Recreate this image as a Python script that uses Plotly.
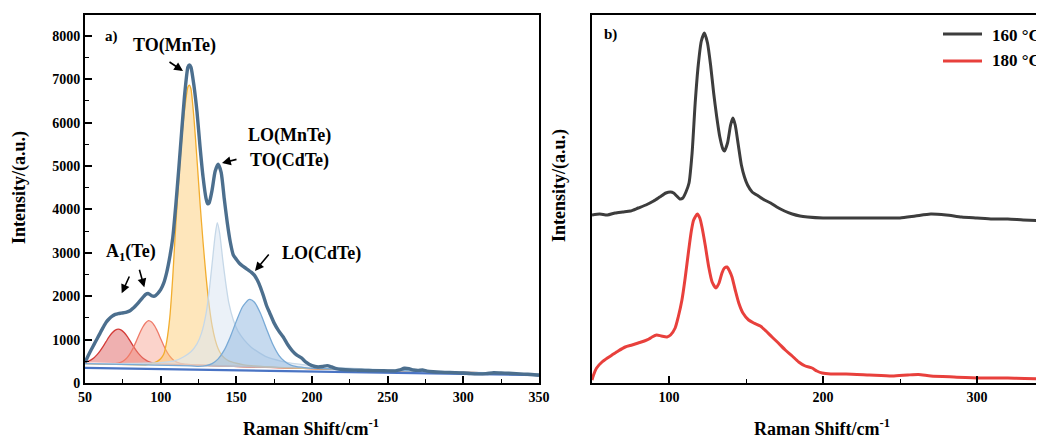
import plotly.graph_objects as go

# ---------------- Panel a data (Raman shift, cm-1 ; intensity, a.u.) ----------------
meas_x = [50, 52, 54, 56, 58, 60, 62, 64, 66, 68, 70, 72, 74, 76, 78, 80, 82, 84, 86, 88, 90, 92, 94, 96, 98,
          100, 102, 104, 106, 108, 110, 112, 114, 116, 118, 119, 120, 122, 124, 126, 128, 130, 131, 132, 134,
          136, 138, 140, 142, 144, 146, 148, 150, 152, 154, 156, 158, 160, 162, 164, 166, 168, 170, 172, 175,
          178, 181, 184, 187, 190, 193, 196, 200, 204, 207, 210, 213, 216, 220, 225, 230, 235, 240, 245, 250,
          255, 258, 261, 264, 267, 270, 273, 276, 280, 285, 290, 295, 300, 305, 310, 315, 320, 325, 330, 335,
          340, 345, 350]
meas_y = [470, 620, 760, 890, 1020, 1150, 1280, 1400, 1480, 1540, 1580, 1600, 1610, 1620, 1640, 1670, 1730,
          1800, 1880, 1960, 2040, 2060, 2010, 2000, 2060, 2150, 2300, 2550, 2900, 3350, 4100, 4950, 5850,
          6700, 7280, 7330, 7280, 6850, 6250, 5450, 4750, 4250, 4130, 4150, 4450, 4880, 5040, 4850, 4250,
          3700, 3250, 2950, 2850, 2760, 2700, 2650, 2600, 2550, 2480, 2360, 2200, 2000, 1780, 1620, 1380,
          1200, 1060, 880, 740, 640, 580, 480, 400, 370, 380, 400, 370, 330, 310, 300, 295, 290, 285, 285,
          280, 280, 300, 340, 330, 300, 290, 300, 275, 260, 250, 245, 240, 230, 215, 210, 215, 235, 230, 225,
          215, 205, 195, 180]

# fitted components
red_x = [50, 52, 54, 56, 58, 60, 62, 64, 66, 68, 70, 72, 74, 76, 78, 80, 82, 84, 86, 88, 90, 92, 94, 96, 100, 200, 350]
red_y = [478, 500, 534, 584, 654, 742, 845, 957, 1066, 1157, 1219, 1240, 1219, 1157, 1066, 957, 845, 742, 654,
         584, 534, 495, 468, 452, 440, 330, 205]

salmon_x = [50, 70, 72, 74, 76, 78, 80, 82, 84, 86, 88, 90, 92, 94, 96, 98, 100, 102, 104, 106, 108, 110, 112,
            114, 116, 120, 200, 350]
salmon_y = [450, 444, 456, 481, 524, 592, 690, 819, 972, 1133, 1279, 1384, 1436, 1405, 1315, 1179, 1020, 863,
            726, 618, 542, 492, 462, 445, 436, 420, 330, 205]

yellow_x = [50, 90, 92, 94, 96, 98, 100, 102, 104, 106, 108, 110, 112, 114, 116, 118, 119, 120, 122, 124, 126,
            128, 130, 132, 134, 136, 138, 140, 142, 145, 150, 155, 160, 200, 350]
yellow_y = [445, 420, 430, 445, 470, 505, 560, 660, 960, 1500, 2450, 3650, 4700, 5650, 6350, 6820, 6866, 6780,
            6100, 5150, 4150, 3250, 2450, 1800, 1320, 1000, 790, 660, 580, 510, 455, 420, 400, 330, 205]

grey_x = [50, 100, 110, 115, 120, 124, 127, 130, 132, 134, 136, 137.4, 139, 141, 143, 145, 148, 151, 155, 160,
          165, 170, 180, 190, 200, 250, 350]
grey_y = [445, 470, 520, 600, 720, 900, 1150, 1600, 2100, 2750, 3400, 3694, 3450, 2850, 2300, 1850, 1450, 1200,
          1000, 820, 700, 600, 500, 440, 400, 300, 205]

blue_x = [50, 120, 125, 130, 134, 138, 142, 146, 150, 154, 158, 159, 162, 166, 170, 174, 178, 182, 186, 190,
          195, 200, 250, 350]
blue_y = [445, 395, 385, 400, 447, 557, 758, 1062, 1426, 1752, 1920, 1928, 1862, 1601, 1241, 899, 645, 493,
          410, 375, 355, 340, 290, 205]

base_x = [50, 100, 150, 200, 250, 300, 350]
base_y = [350, 320, 290, 262, 235, 210, 180]

# ---------------- Panel b data (Raman shift ; intensity, arbitrary, offset) ----------------
b160_x = [50, 55, 60, 65, 70, 75, 80, 85, 90, 94, 98, 101, 103, 105, 107, 109, 111, 113, 115, 117, 119, 121,
          123, 125, 127, 129, 131, 133, 135, 136, 138, 140, 141.5, 143, 145, 147, 149, 151, 154, 158, 162, 166,
          170, 175, 180, 185, 190, 200, 210, 220, 230, 240, 250, 260, 270, 280, 290, 300, 310, 320, 330, 345]
b160_y = [168, 169, 168, 170, 171, 172, 175, 178, 182, 186, 190, 191, 190, 187, 184, 185, 191, 200, 230, 280,
          318, 342, 350, 340, 318, 290, 266, 246, 234, 232, 240, 258, 265, 258, 238, 218, 206, 198, 191, 187,
          183, 180, 176, 172, 169, 167, 166, 165, 165, 165, 165, 165, 165, 167, 169, 168, 166, 165, 164, 164,
          163, 162]

b180_x = [50, 51, 53, 56.5, 60, 63, 67, 71.6, 76, 80, 84, 87, 89, 92, 95, 98.7, 101, 104, 106, 108.4, 110.5,
          112.8, 114.5, 116, 118.4, 120, 121.4, 123.5, 125.8, 128, 130.5, 132.5, 134.4, 136, 137.7, 139.3, 140.9,
          143, 145.3, 148, 151.7, 155, 159.3, 163, 166.9, 171, 175.5, 180, 184.2, 188.5, 192.9, 196, 199.4, 205,
          215, 230, 245, 255, 262, 270, 285, 302, 320, 345]
b180_y = [3, 8, 15, 21, 25, 28, 32, 36, 38, 40, 42, 44, 46, 48, 47, 46, 48, 55, 66, 83, 105, 133, 152, 163, 169,
          165, 156, 138, 116, 101, 95, 100, 110, 115, 116, 112, 106, 93, 80, 70, 63, 60, 57, 52, 46, 40, 33, 27,
          21, 17, 15, 12, 10, 9, 9, 8, 7, 8, 8.5, 7, 6, 5, 5, 4]

series_b_names = ["160 °C", "180 °C"]

W, H = 1044, 437
OFF = 8  # page body margin offset
FONT = "Liberation Serif"


def px(xp):
    return (xp - OFF) / W


def py(yp):
    return 1 - (yp - OFF) / H


fig = go.Figure()

# components (filled)
comps = [
    (red_x, red_y, "#d43c38", "rgba(220,80,80,0.45)"),
    (salmon_x, salmon_y, "#ef7a68", "rgba(246,150,130,0.42)"),
    (yellow_x, yellow_y, "#f2ad2e", "rgba(252,200,105,0.45)"),
    (grey_x, grey_y, "#c6d8e8", "rgba(218,230,242,0.55)"),
    (blue_x, blue_y, "#79aad6", "rgba(135,178,222,0.48)"),
]
for cx, cy, lc, fc in comps:
    fig.add_trace(go.Scatter(x=cx, y=cy, mode="lines", line=dict(color=lc, width=1.3, shape="spline", smoothing=0.6),
                             fill="toself", fillcolor=fc, xaxis="x", yaxis="y", showlegend=False,
                             hoverinfo="skip"))

fig.add_trace(go.Scatter(x=base_x, y=base_y, mode="lines", line=dict(color="#4a74c4", width=2.2),
                         xaxis="x", yaxis="y", showlegend=False))
fig.add_trace(go.Scatter(x=meas_x, y=meas_y, mode="lines",
                         line=dict(color="#4c6f8e", width=3.4, shape="spline", smoothing=0.6),
                         xaxis="x", yaxis="y", showlegend=False))

# panel b
fig.add_trace(go.Scatter(x=b160_x, y=b160_y, mode="lines", name=series_b_names[0],
                         line=dict(color="#3d3d3d", width=3, shape="spline", smoothing=0.6),
                         xaxis="x2", yaxis="y2", showlegend=False))
fig.add_trace(go.Scatter(x=b180_x, y=b180_y, mode="lines", name=series_b_names[1],
                         line=dict(color="#e8403c", width=3, shape="spline", smoothing=0.6),
                         xaxis="x2", yaxis="y2", showlegend=False))

tickfont = dict(family=FONT, size=14, color="black", weight="bold")
axis_common = dict(showline=True, linecolor="black", linewidth=1.8, ticks="inside", ticklen=7, tickwidth=1.5,
                   tickcolor="black", showgrid=False, zeroline=False, tickfont=tickfont)

# visible right edge of panel b is pixel 1044 (= 343.5 cm-1); plot area reaches pixel 1044 + OFF
b_right = 50 + (W + OFF - 592) / 1.54

fig.update_layout(
    width=W, height=H,
    margin=dict(l=0, r=0, t=0, b=0, autoexpand=False),
    plot_bgcolor="white", paper_bgcolor="white",
    font=dict(family=FONT, color="black"),
    xaxis=dict(domain=[px(85), px(539)], range=[50, 350], tick0=50, dtick=50, mirror=True,
               minor=dict(ticks="inside", ticklen=4, tickwidth=1.3, tickcolor="black", dtick=25),
               anchor="y", **axis_common),
    yaxis=dict(domain=[py(383), py(15)], range=[0, 8480], tick0=0, dtick=1000, mirror=True,
               minor=dict(ticks="inside", ticklen=4, tickwidth=1.3, tickcolor="black", dtick=500),
               anchor="x", **axis_common),
    xaxis2=dict(domain=[px(592), 1.0], range=[50, b_right], tick0=0, dtick=100, mirror=True,
                minor=dict(ticks="inside", ticklen=4, tickwidth=1.3, tickcolor="black", dtick=50),
                anchor="y2", **axis_common),
    yaxis2=dict(domain=[py(383), py(15)], range=[0, 368], showticklabels=False, anchor="x2",
                showline=True, linecolor="black", linewidth=1.8, ticks="", showgrid=False, zeroline=False),
)

ann = []


def label(text, xc, yc, size=18, angle=0, xanchor="center"):
    ann.append(dict(text=text, x=px(xc), y=py(yc), xref="paper", yref="paper", showarrow=False,
                    xanchor=xanchor, yanchor="middle", textangle=angle,
                    font=dict(family=FONT, size=size, color="black", weight="bold")))


label("a)", 111, 36, 15)
label("b)", 610, 34, 15)
label("TO(MnTe)", 174, 45)
label("LO(MnTe)", 289, 135)
label("TO(CdTe)", 289, 160)
label("LO(CdTe)", 321, 253)
label("A<sub>1</sub>(Te)", 131, 252)
label("Raman Shift/cm<sup>-1</sup>", 311, 427)
label("Raman Shift/cm<sup>-1</sup>", 822, 427)
label("Intensity/(a.u.)", 19, 188, 18, -90)
label("Intensity/(a.u.)", 559, 186, 18, -90)
label(series_b_names[0], 990, 35, 17, 0, "left")
label(series_b_names[1], 990, 61, 17, 0, "left")


def xd(p):
    return 50 + (p - 85) / 1.5133


def yd(p):
    return (383 - p) / 0.0434


arrows = [((168, 61), (183, 71)), ((238, 159), (222, 163)), ((270, 253), (255, 271)),
          ((130, 275), (121.7, 293.3)), ((139, 268.3), (144.3, 287.3))]
for (tx, ty), (hx, hy) in arrows:
    ann.append(dict(x=xd(hx), y=yd(hy), ax=xd(tx), ay=yd(ty), xref="x", yref="y", axref="x", ayref="y",
                    showarrow=True, arrowhead=2, arrowsize=1.1, arrowwidth=1.6, arrowcolor="black", text=""))

fig.update_layout(annotations=ann)

shapes = []
for yl, col in [(34, "#3d3d3d"), (61, "#e8403c")]:
    shapes.append(dict(type="line", xref="paper", yref="paper", x0=px(943), x1=px(982), y0=py(yl), y1=py(yl),
                       line=dict(color=col, width=3)))
fig.update_layout(shapes=shapes)

fig.write_html("out.html")
